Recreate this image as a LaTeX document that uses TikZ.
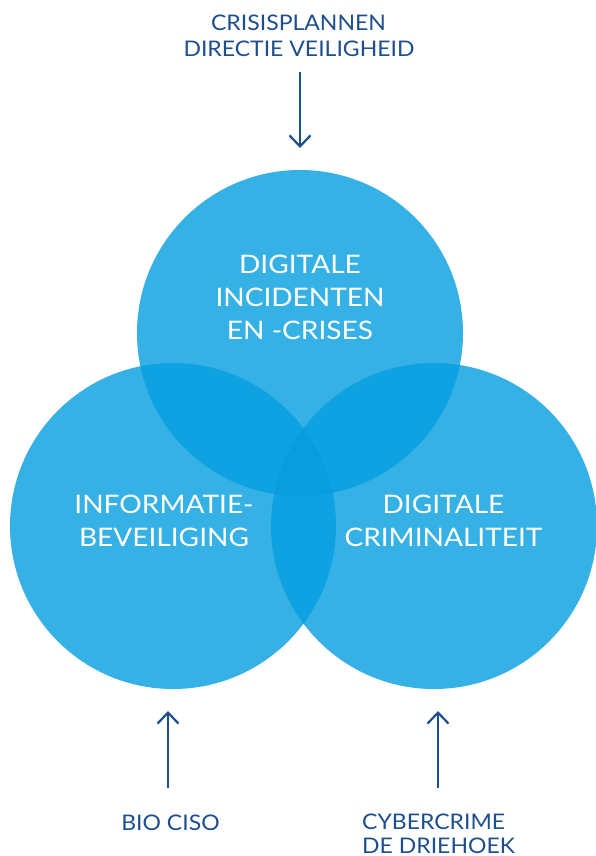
\documentclass[tikz,border=0pt]{standalone}
\usepackage{fontspec}
\setmainfont{Lato}
\newfontfamily\circfont[FakeStretch=1.1]{Lato}
\newfontfamily\lblfont[FakeStretch=1.07]{Lato}
\usetikzlibrary{arrows.meta}
\definecolor{cbase}{RGB}{54,177,230}
\definecolor{cover}{RGB}{14,162,226}
\definecolor{ctriple}{RGB}{8,158,222}
\definecolor{navy}{RGB}{29,78,143}
\begin{document}
\begin{tikzpicture}[x=1pt,y=-1pt,
  lbl/.style={text=navy,font=\lblfont\fontsize{21.5}{26}\selectfont,inner sep=0pt,anchor=base},
  ctext/.style={text=white,font=\circfont\fontsize{25.5}{32}\selectfont,inner sep=0pt,anchor=base},
  arr/.style={draw=navy,line width=2.2pt,-{Straight Barb[length=11pt,width=21pt,line width=2.2pt]}}]
\useasboundingbox (0,0) rectangle (595,856);
% circle centres
\coordinate (ct) at (300,333);
\coordinate (cl) at (173,526);
\coordinate (cr) at (434,526);
\def\R{163}
% base discs
\fill[cbase] (ct) circle[radius=\R];
\fill[cbase] (cl) circle[radius=\R];
\fill[cbase] (cr) circle[radius=\R];
% pairwise overlaps
\begin{scope}
  \clip (ct) circle[radius=\R];
  \fill[cover] (cl) circle[radius=\R];
  \fill[cover] (cr) circle[radius=\R];
\end{scope}
\begin{scope}
  \clip (cl) circle[radius=\R];
  \fill[cover] (cr) circle[radius=\R];
\end{scope}
% triple overlap
\begin{scope}
  \clip (ct) circle[radius=\R];
  \clip (cl) circle[radius=\R];
  \fill[ctriple] (cr) circle[radius=\R];
\end{scope}
% circle texts
\node[ctext] (t1) at (300,273) {DIGITALE};
\node[ctext] (t2) at (300,306) {INCIDENTEN};
\node[ctext] (t3) at (300,339) {EN -CRISES};
\node[ctext] (l1) at (164,513) {INFORMATIE-};
\node[ctext] (l2) at (164,546) {BEVEILIGING};
\node[ctext] (r1) at (443.5,513) {DIGITALE};
\node[ctext] (r2) at (443.5,546) {CRIMINALITEIT};
% outside labels
\node[lbl] (a1) at (298.5,31) {CRISISPLANNEN};
\node[lbl] (a2) at (299,57) {DIRECTIE VEILIGHEID};
\node[lbl] (b1) at (170.5,830) {BIO CISO};
\node[lbl,anchor=base west] (c1) at (362,829) {CYBERCRIME};
\node[lbl,anchor=base west] (c2) at (362,853) {DE DRIEHOEK};
% arrows
\coordinate (ta) at (300,72);
\coordinate (tb) at (300,148);
\coordinate (la) at (168,788);
\coordinate (lb) at (168,711);
\coordinate (ra) at (438,788);
\coordinate (rb) at (438,711);
\draw[arr] (ta) -- (tb);
\draw[arr] (la) -- (lb);
\draw[arr] (ra) -- (rb);
\end{tikzpicture}
\end{document}
